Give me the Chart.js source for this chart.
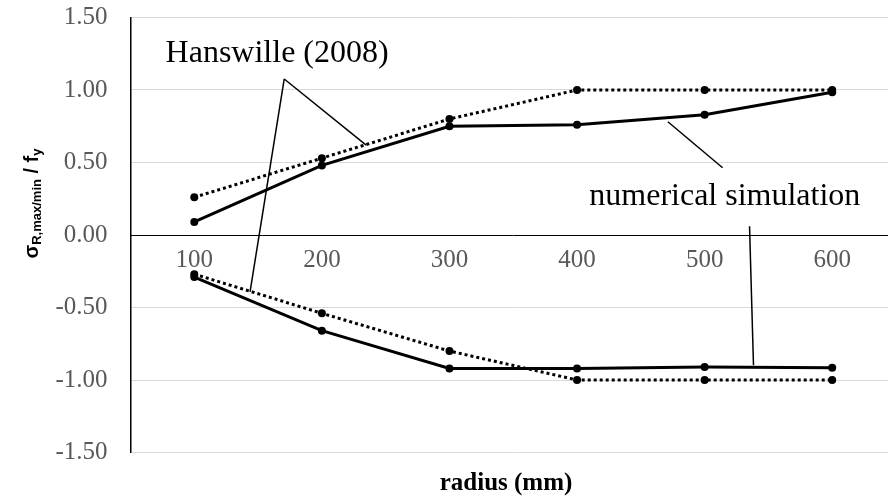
<!DOCTYPE html>
<html>
<head>
<meta charset="utf-8">
<script src="https://cdn.jsdelivr.net/npm/chart.js@4"></script>
<style>
  html, body { margin: 0; padding: 0; overflow: hidden; background: #fff; width: 888px; height: 496px; }
  canvas { display: block; }
</style>
</head>
<body>
<canvas id="c" width="900" height="496" style="width:900px;height:496px"></canvas>
<script>
// ---- data ----
const categories = ['100', '200', '300', '400', '500', '600'];
const numericalUpper = [0.09, 0.48, 0.75, 0.76, 0.83, 0.985];
const hanswilleUpper = [0.26, 0.53, 0.80, 1.00, 1.00, 1.00];
const numericalLower = [-0.29, -0.66, -0.92, -0.92, -0.91, -0.915];
const hanswilleLower = [-0.27, -0.54, -0.80, -1.00, -1.00, -1.00];
const yTickValues = [-1.5, -1.0, -0.5, 0.0, 0.5, 1.0, 1.5];

// callout annotations in data units: [categoryIndex, value]
const hanswilleLabel = { text: 'Hanswille (2008)', at: [-0.225, 1.195] };
const numericalLabel = { text: 'numerical simulation', at: [3.096, 0.206] };
const calloutLines = [
  [[0.705, 1.076], [1.347, 0.620]],
  [[0.705, 1.076], [0.437, -0.392]],
  [[3.712, 0.781], [4.141, 0.464]],
  [[4.352, 0.061], [4.383, -0.898]]
];

const SERIF = '"Liberation Serif", "Times New Roman", serif';
const SANS = '"Liberation Sans", Arial, sans-serif';

const annotationPlugin = {
  id: 'callouts',
  afterDatasetsDraw(chart) {
    const { ctx, scales: { x, y } } = chart;
    ctx.save();
    ctx.strokeStyle = '#000';
    ctx.lineWidth = 1.5;
    calloutLines.forEach(([a, b]) => {
      ctx.beginPath();
      ctx.moveTo(x.getPixelForValue(a[0]), y.getPixelForValue(a[1]));
      ctx.lineTo(x.getPixelForValue(b[0]), y.getPixelForValue(b[1]));
      ctx.stroke();
    });
    ctx.fillStyle = '#000';
    ctx.font = '32px ' + SERIF;
    ctx.textAlign = 'left';
    ctx.textBaseline = 'alphabetic';
    [hanswilleLabel, numericalLabel].forEach(l => {
      ctx.fillText(l.text, x.getPixelForValue(l.at[0]), y.getPixelForValue(l.at[1]));
    });
    ctx.restore();
  },
  afterDraw(chart) {
    const { ctx } = chart;
    ctx.save();
    // x axis title
    ctx.fillStyle = '#000';
    ctx.font = 'bold 25px ' + SERIF;
    ctx.textAlign = 'center';
    ctx.textBaseline = 'alphabetic';
    ctx.fillText('radius (mm)', 506, 490);
    // y axis title with subscripts
    const parts = [
      { t: 'σ', f: 'bold 20px ' + SANS, dy: 0 },
      { t: 'R,max/min', f: 'bold 13px ' + SANS, dy: 3 },
      { t: ' / f', f: 'bold 20px ' + SANS, dy: 0 },
      { t: 'y', f: 'bold 13px ' + SANS, dy: 3 }
    ];
    let total = 0;
    parts.forEach(p => { ctx.font = p.f; p.w = ctx.measureText(p.t).width; total += p.w; });
    ctx.translate(38, 203.5);
    ctx.rotate(-Math.PI / 2);
    ctx.textAlign = 'left';
    let u = -total / 2;
    parts.forEach(p => { ctx.font = p.f; ctx.fillText(p.t, u, p.dy); u += p.w; });
    ctx.restore();
  }
};

const solid = (data) => ({
  data, borderColor: '#000', borderWidth: 3, pointRadius: 4, pointBorderWidth: 0,
  pointBackgroundColor: '#000', pointHoverRadius: 4, tension: 0, fill: false
});
const dotted = (data) => Object.assign(solid(data), { borderDash: [3, 3] });

new Chart(document.getElementById('c'), {
  type: 'line',
  data: {
    labels: categories,
    datasets: [
      Object.assign(solid(numericalUpper), { label: 'numerical simulation' }),
      Object.assign(dotted(hanswilleUpper), { label: 'Hanswille (2008)' }),
      Object.assign(solid(numericalLower), { label: 'numerical simulation' }),
      Object.assign(dotted(hanswilleLower), { label: 'Hanswille (2008)' })
    ]
  },
  options: {
    responsive: false,
    animation: false,
    devicePixelRatio: 1,
    layout: { padding: { top: 17.5, left: 0, right: 0, bottom: 43.5 } },
    plugins: { legend: { display: false }, tooltip: { enabled: false }, title: { display: false } },
    scales: {
      x: {
        type: 'category',
        offset: true,
        position: { y: 0 },
        grid: { display: false, drawTicks: false },
        border: { display: true, color: '#000', width: 1, dash: [4, 2] },
        ticks: { color: '#595959', font: { family: SERIF, size: 25 }, padding: 10, maxRotation: 0, autoSkip: false },
        afterFit: s => { s.height = 0; s.paddingLeft = 0; s.paddingRight = 0; }
      },
      y: {
        min: -1.5, max: 1.5,
        afterBuildTicks: s => { s.ticks = yTickValues.map(v => ({ value: v })); },
        grid: {
          drawTicks: false,
          color: c => (c.tick && c.tick.value === 0) ? 'rgba(0,0,0,0)' : '#d9d9d9',
          lineWidth: 1
        },
        border: { display: true, color: '#000', width: 1.5 },
        ticks: {
          color: '#595959', font: { family: SERIF, size: 25 }, padding: 23,
          callback: v => Number(v).toFixed(2)
        },
        afterFit: s => { s.width = 130.5; s.paddingTop = 0; s.paddingBottom = 0; }
      }
    }
  },
  plugins: [annotationPlugin]
});
</script>
</body>
</html>
